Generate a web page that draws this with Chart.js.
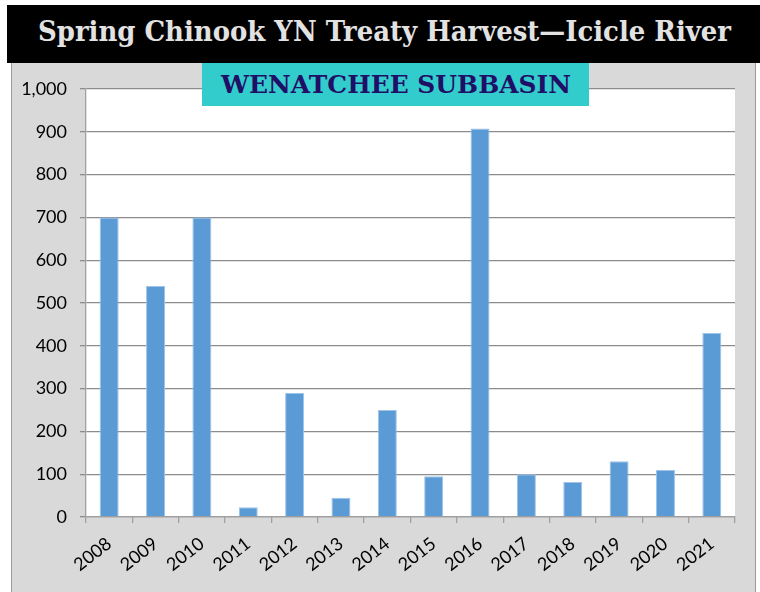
<!DOCTYPE html>
<html>
<head>
<meta charset="utf-8">
<script src="https://cdn.jsdelivr.net/npm/chart.js@4.4.1/dist/chart.umd.min.js"></script>
<style>
  html, body { margin: 0; padding: 0; background: #ffffff; }
  #wrap { position: relative; width: 760px; height: 592px; overflow: hidden; }
  #panel { position: absolute; left: 11px; top: 63px; width: 743px; height: 529px;
           background: #d9d9d9; border-left: 1px solid #9a9a9a; border-right: 1px solid #9a9a9a; }
  #titlebar { position: absolute; left: 7px; top: 5px; width: 753px; height: 58px; background: #000; }
  #title { position: absolute; left: 0; top: 0; white-space: nowrap;
           font-family: "DejaVu Serif", serif; font-weight: bold; font-size: 27px; color: #e2e2e2;
           transform-origin: 0 0; }
  #subbox { position: absolute; left: 202px; top: 63px; width: 387px; height: 43px; background: #33cccc; }
  #sub { position: absolute; left: 0; top: 0; white-space: nowrap;
         font-family: "DejaVu Serif", serif; font-weight: bold; font-size: 25px; color: #1f0f66;
         transform-origin: 0 0; }
  canvas { position: absolute; left: 0; top: 0; }
</style>
</head>
<body>
<div id="wrap">
  <div id="panel"></div>
  <canvas id="c" width="760" height="592"></canvas>
  <div id="titlebar"></div>
  <div id="title">Spring Chinook YN Treaty Harvest—Icicle River</div>
  <div id="subbox"></div>
  <div id="sub">WENATCHEE SUBBASIN</div>
</div>
<script>
const years = ["2008","2009","2010","2011","2012","2013","2014","2015","2016","2017","2018","2019","2020","2021"];
const harvest = [700, 540, 700, 23, 290, 45, 250, 95, 908, 100, 82, 130, 110, 430];
const yTicks = [0,100,200,300,400,500,600,700,800,900,1000];

// fit title texts to the reference widths
function fit(id, left, right, baseline) {
  const el = document.getElementById(id);
  const r = el.getBoundingClientRect();
  const sx = (right - left) / r.width;
  el.style.transform = 'scaleX(' + sx + ')';
  el.style.left = left + 'px';
  el.style.top = (baseline - r.height * 0.78) + 'px';
}
fit('title', 38, 731, 40);
fit('sub', 221, 571, 93);

const whiteArea = {
  id: 'whiteArea',
  beforeDraw(chart) {
    const a = chart.chartArea, ctx = chart.ctx;
    ctx.save();
    ctx.fillStyle = '#ffffff';
    ctx.fillRect(a.left, a.top, a.right - a.left, a.bottom - a.top);
    ctx.restore();
  }
};

new Chart(document.getElementById('c'), {
  type: 'bar',
  data: {
    labels: years,
    datasets: [{
      data: harvest,
      backgroundColor: '#5b9bd5',
      borderColor: '#9fc3ea',
      borderWidth: { top: 1, left: 1, right: 1, bottom: 0 },
      categoryPercentage: 1,
      barPercentage: 0.41
    }]
  },
  options: {
    responsive: false,
    animation: false,
    layout: { padding: { top: 89, right: 25, left: 0, bottom: 0 } },
    plugins: { legend: { display: false }, tooltip: { enabled: false }, title: { display: false } },
    scales: {
      x: {
        grid: { offset: true, drawOnChartArea: false, drawTicks: true, tickLength: 6, color: '#a0a0a0', lineWidth: 1.3 },
        border: { display: true, color: '#a0a0a0', width: 1.3 },
        ticks: { color: '#000', font: { family: 'Lato', size: 18 }, minRotation: 38, maxRotation: 38, padding: 10, autoSkip: false },
        afterFit(s) { s.height = 75; }
      },
      y: {
        min: 0, max: 1000,
        afterBuildTicks(s) { s.ticks = yTicks.map(v => ({ value: v })); },
        grid: { color: '#8c8c8c', lineWidth: 1.3, tickLength: 6, drawTicks: true },
        border: { display: true, color: '#a0a0a0', width: 1.3 },
        ticks: { color: '#000', font: { family: 'Lato', size: 18 }, padding: 13,
                 callback: v => v.toLocaleString('en-US') },
        afterFit(s) { s.width = 86; }
      }
    }
  },
  plugins: [whiteArea]
});
</script>
</body>
</html>
